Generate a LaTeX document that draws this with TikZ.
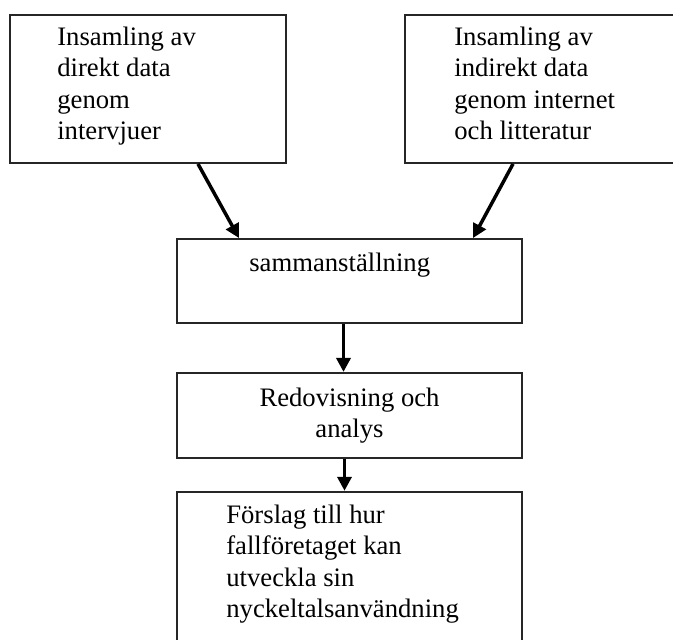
\documentclass[tikz,border=0pt]{standalone}
\usepackage{fontspec}
\setmainfont{Liberation Serif}
\usetikzlibrary{arrows.meta,positioning,calc}
\tikzset{
 box/.style={rectangle,draw=black!85,line width=1.4pt,inner sep=0pt,minimum width=258.75pt},
 boxtext/.style={inner sep=0pt,align=left,font=\fontsize{20pt}{23.6pt}\selectfont},
 arrow/.style={-{Triangle[length=10.5pt,width=10.5pt]},line width=2.6pt,draw=black}}

\begin{document}
\begin{tikzpicture}[x=0.75pt,y=-0.75pt]
\useasboundingbox (0,0) rectangle (673,639);
% boxes
\node[box,minimum width=207pt,minimum height=111pt] (direkt) at (148,89) {};
\node[box,minimum width=221.25pt,minimum height=111pt] (indirekt) at (552.5,89) {};
\node[box,minimum height=63pt] (samman) at (349.5,281) {};
\node[box,minimum height=63.75pt,below=36pt of samman] (redov) {};
\node[box,minimum height=144pt,below=24pt of redov] (forslag) {};
% texts
\node[boxtext,anchor=north west] (direkt-text) at ($(direkt.north west)+(48,12.5)$) {Insamling av\\direkt data\\genom\\intervjuer};
\node[boxtext,anchor=north west] (indirekt-text) at ($(indirekt.north west)+(50,12.5)$) {Insamling av\\indirekt data\\genom internet\\och litteratur};
\node[boxtext,anchor=north west] (samman-text) at ($(samman.north west)+(73,14.5)$) {sammanställning};
\node[boxtext,anchor=north,align=center] (redov-text) at ($(redov.north)+(0,15.5)$) {Redovisning och\\analys};
\node[boxtext,anchor=north west] (forslag-text) at ($(forslag.north west)+(50,13.5)$) {Förslag till hur\\fallföretaget kan\\utveckla sin\\nyckeltalsanvändning};
% arrows
\draw[arrow] ($(direkt.south)+(50,0)$) -- ($(samman.north)+(-110.5,0)$);
\draw[arrow] ($(indirekt.south)+(-39.5,0)$) -- ($(samman.north)+(123.5,0)$);
\draw[arrow] ($(samman.south)+(-6,0)$) -- ($(redov.north)+(-6,0)$);
\draw[arrow] ($(redov.south)+(-5,0)$) -- ($(forslag.north)+(-5,0)$);
\end{tikzpicture}
\end{document}
